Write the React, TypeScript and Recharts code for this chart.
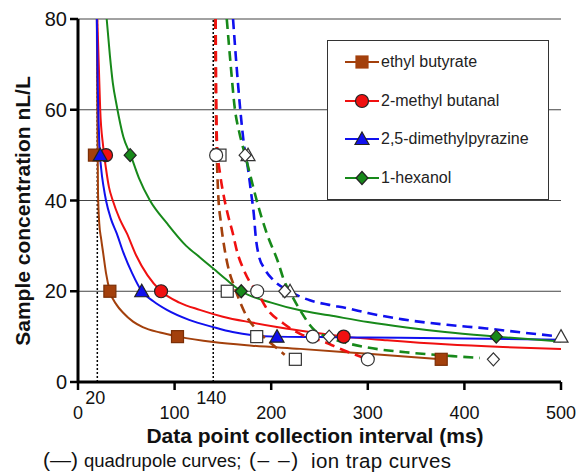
import React from 'react';
import { ComposedChart, Line, Scatter, XAxis, YAxis, CartesianGrid, ReferenceLine } from 'recharts';

// compounds, in legend order
const compounds = ['ethyl butyrate', '2-methyl butanal', '2,5-dimethylpyrazine', '1-hexanol'];
const colors = ['#a3400c', '#f01010', '#1010ee', '#17891a'];
const markerKinds = ['square', 'circle', 'triangle', 'diamond'];

const xTicks = [0, 20, 100, 140, 200, 300, 400, 500];
const raisedTicks = [20, 140];
const yTicks = [0, 20, 40, 60, 80];
const cutoffs = [20, 140];

// quadrupole (solid) curves, [ms, nL/L]
const ethylQuadCurve = [[19.5, 80], [20, 60], [20.7, 42], [22, 35], [24, 31.5], [26, 28.5], [29, 24], [33, 20], [40, 17], [47, 15.2], [57, 13.3], [67, 12.1], [85, 10.9], [104, 10], [140, 8.8], [180, 8], [230, 7.3], [300, 6.2], [376, 5]];
const methylQuadCurve = [[20, 80], [21.5, 70], [23, 60], [26, 52], [29, 47], [32, 43], [36, 40], [43, 36], [50.5, 32.8], [60, 28], [72, 23.5], [86, 20], [105, 17.5], [126, 15.9], [150, 14.4], [180, 13.1], [209, 12], [240, 11], [275, 10], [320, 9.2], [380, 8.3], [440, 7.7], [500, 7.3]];
const pyrazineQuadCurve = [[19.5, 80], [20.5, 65], [22, 53], [24, 47], [26.5, 43], [29, 40], [34, 36], [40, 32.8], [47, 28.5], [56, 24], [66, 20], [78, 17.8], [92, 15.9], [115, 13.7], [140, 12.1], [160, 11], [181, 10.3], [205, 10], [250, 9.9], [300, 9.8], [400, 9.6], [500, 9.3]];
const hexanolQuadCurve = [[29.7, 80], [33, 72], [36, 66], [40, 61], [47, 54], [54.5, 50], [63, 45], [74.5, 40], [92, 35], [112, 30], [126, 27.5], [140, 25], [155, 22.3], [169, 20], [200, 17.5], [230, 15.8], [260, 14.7], [300, 13.2], [340, 12], [380, 11], [433, 10], [500, 8.9]];

// ion trap (dashed) curves
const ethylTrapCurve = [[142, 80], [142.5, 65], [143.5, 52], [145, 42], [148, 35], [152, 29], [157, 24], [161, 21.5], [168, 17.5], [175, 14.3], [185, 11.5], [195, 9.4], [205, 7.6], [214, 6]];
const methylTrapCurve = [[142.5, 80], [143, 65], [144, 52], [147, 46], [150, 42], [155, 37], [160, 33], [165, 28.5], [171, 25], [178, 22], [185, 20], [196, 16], [212, 13], [230, 10.6], [253, 9], [275, 7], [300, 5]];
const pyrazineTrapCurve = [[160.5, 80], [164, 70], [168, 60], [172, 52], [176, 47], [179, 42], [182, 37], [184, 32], [187, 28], [193, 25], [202, 22.5], [219, 20], [240, 18], [260, 17], [278, 16.3], [300, 15.2], [336, 13.8], [382, 12.6], [423, 11.8], [460, 10.9], [500, 10]];
const hexanolTrapCurve = [[154, 80], [158, 70], [162.5, 60], [167, 55], [173, 50], [179, 45], [185, 40], [195, 33], [207, 26.5], [214, 22], [219, 20], [230, 15.8], [243, 11.8], [260, 9.8], [278, 8.6], [300, 7.6], [347, 6.4], [388, 5.7], [416, 5.3]];

// measured points
const ethylQuadPts = [[17, 50], [33, 20], [103, 10], [376, 5]];
const methylQuadPts = [[29, 50], [86, 20], [275, 10]];
const pyrazineQuadPts = [[23, 50], [66, 20], [206, 10]];
const hexanolQuadPts = [[54, 50], [169, 20], [433, 10]];
const ethylTrapPts = [[147, 50], [154.5, 20], [185, 10], [225, 5]];
const methylTrapPts = [[143, 50], [185.5, 20], [243, 10], [300, 5]];
const pyrazineTrapPts = [[176, 50], [219.5, 20], [500, 10]];
const hexanolTrapPts = [[173, 50], [214, 20], [260, 10], [430, 5]];

const quadCurves = [ethylQuadCurve, methylQuadCurve, pyrazineQuadCurve, hexanolQuadCurve];
const trapCurves = [ethylTrapCurve, methylTrapCurve, pyrazineTrapCurve, hexanolTrapCurve];
const quadPts = [ethylQuadPts, methylQuadPts, pyrazineQuadPts, hexanolQuadPts];
const trapPts = [ethylTrapPts, methylTrapPts, pyrazineTrapPts, hexanolTrapPts];

const toXY = (arr: number[][]) => arr.map(([x, y]) => ({ x, y }));

const FONT = '"Liberation Sans", Arial, sans-serif';

function MarkerShape({ cx, cy, kind, fill, stroke }: any) {
  if (cx == null || cy == null) return null;
  if (kind === 'square') {
    return <rect x={cx - 6} y={cy - 6} width={12} height={12} fill={fill} stroke={stroke} strokeWidth={1.2} />;
  }
  if (kind === 'circle') {
    return <circle cx={cx} cy={cy} r={6.5} fill={fill} stroke={stroke} strokeWidth={1.2} />;
  }
  if (kind === 'triangle') {
    return <path d={`M${cx},${cy - 7} L${cx + 7},${cy + 5.5} L${cx - 7},${cy + 5.5} Z`} fill={fill} stroke={stroke} strokeWidth={1.2} />;
  }
  return <path d={`M${cx},${cy - 6.5} L${cx + 6},${cy} L${cx},${cy + 6.5} L${cx - 6},${cy} Z`} fill={fill} stroke={stroke} strokeWidth={1.2} />;
}

// 20 and 140 (the cut-off intervals) sit on a raised row, without a tick mark
const XTick = ({ x, y, payload }: any) => {
  const v = payload.value;
  const raised = raisedTicks.includes(v);
  return (
    <g>
      {!raised && <line x1={x} x2={x} y1={y} y2={y + 8} stroke="#000" strokeWidth={2.5} />}
      <text x={raised ? x - 2 : x} y={raised ? y + 22 : y + 37} textAnchor="middle" fontSize={18} fontFamily={FONT} fill="#111">
        {v}
      </text>
    </g>
  );
};

function LegendBox() {
  return (
    <div
      style={{
        position: 'absolute', left: 327, top: 40, width: 220, height: 158,
        background: '#fff', border: '1px solid #333', fontFamily: FONT, fontSize: 16, color: '#222',
      }}
    >
      {compounds.map((name, i) => (
        <div key={name} style={{ position: 'absolute', left: 17, top: 9 + i * 38.7, height: 24, display: 'flex', alignItems: 'center' }}>
          <svg width={36} height={24}>
            <line x1={0} x2={34} y1={12} y2={12} stroke={colors[i]} strokeWidth={2} />
            <MarkerShape cx={17} cy={12} kind={markerKinds[i]} fill={colors[i]} stroke={i === 0 ? colors[0] : '#222'} />
          </svg>
          <span>{name}</span>
        </div>
      ))}
    </div>
  );
}

const txt = { position: 'absolute' as const, whiteSpace: 'nowrap' as const, fontFamily: FONT, color: '#111' };

export default function App() {
  return (
    <div style={{ position: 'absolute', left: 0, top: 0, width: 578, height: 475, background: '#fff' }}>
      <ComposedChart width={578} height={475} margin={{ top: 19, right: 17, left: 0, bottom: 53 }}>
        <CartesianGrid vertical={false} stroke="#444" strokeWidth={1} />
        <XAxis
          type="number"
          dataKey="x"
          domain={[0, 500]}
          ticks={xTicks}
          interval={0}
          tick={<XTick />}
          tickLine={false}
          tickSize={0}
          tickMargin={0}
          axisLine={{ stroke: '#000', strokeWidth: 3 }}
          height={40}
        />
        <YAxis
          type="number"
          dataKey="y"
          domain={[0, 80]}
          ticks={yTicks}
          width={78}
          axisLine={{ stroke: '#000', strokeWidth: 3 }}
          tickLine={{ stroke: '#000', strokeWidth: 2.5 }}
          tickSize={8}
          tickMargin={3}
          tick={{ fontSize: 20, fontFamily: FONT, fill: '#111' }}
        />
        {cutoffs.map((c) => (
          <ReferenceLine key={c} x={c} stroke="#000" strokeWidth={1.5} strokeDasharray="2 2" />
        ))}
        {quadCurves.map((curve, i) => (
          <Line
            key={'q' + i}
            data={toXY(curve)}
            dataKey="y"
            type="monotone"
            stroke={colors[i]}
            strokeWidth={2}
            dot={false}
            activeDot={false}
            isAnimationActive={false}
          />
        ))}
        {trapCurves.map((curve, i) => (
          <Line
            key={'t' + i}
            data={toXY(curve)}
            dataKey="y"
            type="monotone"
            stroke={colors[i]}
            strokeWidth={2.6}
            strokeDasharray="10 6"
            dot={false}
            activeDot={false}
            isAnimationActive={false}
          />
        ))}
        {trapPts.map((p, i) => (
          <Scatter
            key={'tp' + i}
            data={toXY(p)}
            dataKey="y"
            isAnimationActive={false}
            shape={(props: any) => <MarkerShape {...props} kind={markerKinds[i]} fill="#fff" stroke="#333" />}
          />
        ))}
        {quadPts.map((p, i) => (
          <Scatter
            key={'qp' + i}
            data={toXY(p)}
            dataKey="y"
            isAnimationActive={false}
            shape={(props: any) => (
              <MarkerShape {...props} kind={markerKinds[i]} fill={colors[i]} stroke={i === 0 ? '#7a2e06' : '#222'} />
            )}
          />
        ))}
      </ComposedChart>
      <div style={{ position: 'absolute', left: 23, top: 211, width: 0, height: 0 }}>
        <div
          style={{
            ...txt, left: 0, top: 0, transform: 'translate(-50%, -50%) rotate(-90deg)',
            fontWeight: 'bold', fontSize: 21, transformOrigin: 'center',
          }}
        >
          Sample concentration nL/L
        </div>
      </div>
      <div style={{ ...txt, left: 0, width: 630, top: 424, textAlign: 'center', fontWeight: 'bold', fontSize: 21 }}>
        Data point collection interval (ms)
      </div>
      <div style={{ ...txt, left: 43, top: 448, fontSize: 21 }}>(—)</div>
      <div style={{ ...txt, left: 84, top: 450, fontSize: 18.5 }}>quadrupole curves;</div>
      <div style={{ ...txt, left: 249, top: 448, fontSize: 21, letterSpacing: 1.5 }}>(– –)</div>
      <div style={{ ...txt, left: 311, top: 449, fontSize: 20.5, letterSpacing: 0.4 }}>ion trap curves</div>
      <LegendBox />
    </div>
  );
}
